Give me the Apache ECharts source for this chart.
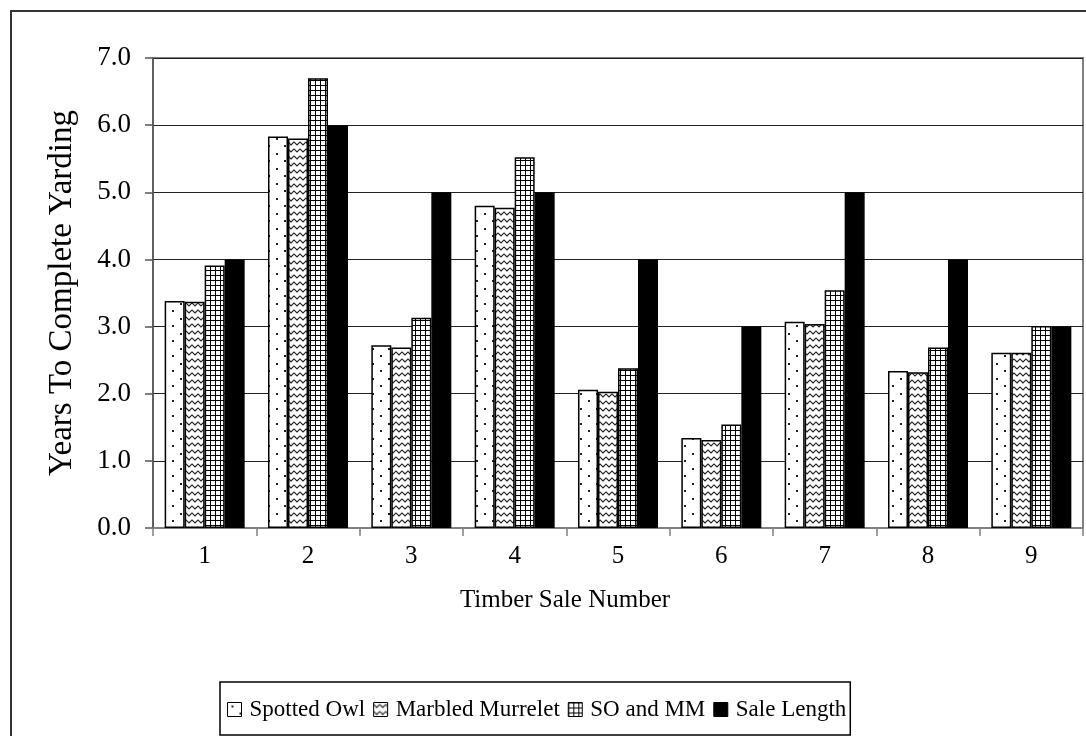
<!DOCTYPE html>
<html>
<head>
<meta charset="utf-8">
<title>Years To Complete Yarding</title>
<script src="https://cdn.jsdelivr.net/npm/echarts@6/dist/echarts.min.js"></script>
<style>
  html, body { margin: 0; padding: 0; background: #fff; }
  #chart { width: 1086px; height: 736px; }
</style>
</head>
<body>
<div id="chart"></div>
<script>
// Timber sales and years needed to complete yarding under each restriction
const categories = ['1', '2', '3', '4', '5', '6', '7', '8', '9'];
const spottedOwl = [3.38, 5.83, 2.72, 4.80, 2.06, 1.34, 3.07, 2.34, 2.61];
const marbledMurrelet = [3.37, 5.80, 2.69, 4.77, 2.03, 1.31, 3.04, 2.32, 2.61];
const soAndMm = [3.91, 6.70, 3.13, 5.52, 2.38, 1.54, 3.54, 2.69, 3.01];
const saleLength = [4.0, 6.0, 5.0, 5.0, 4.0, 3.0, 5.0, 4.0, 3.0];
const seriesNames = ['Spotted Owl', 'Marbled Murrelet', 'SO and MM', 'Sale Length'];

const FONT = '"Liberation Serif", "Times New Roman", serif';

// Small canvas tiles used as repeating fills for the bars
function tile(w, h, draw) {
  const c = document.createElement('canvas');
  c.width = w; c.height = h;
  const ctx = c.getContext('2d');
  ctx.fillStyle = '#fff';
  ctx.fillRect(0, 0, w, h);
  draw(ctx);
  return { image: c, repeat: 'repeat' };
}

const dotFill = tile(16, 15, ctx => {
  ctx.fillStyle = '#222';
  ctx.fillRect(4, 3, 2, 2);
  ctx.fillRect(12, 10, 2, 2);
});

const waveFill = tile(6, 7, ctx => {
  ctx.strokeStyle = '#222';
  ctx.lineWidth = 1.2;
  ctx.beginPath();
  ctx.moveTo(-0.5, 1.5);
  ctx.lineTo(3, 5);
  ctx.lineTo(6.5, 1.5);
  ctx.stroke();
});

const gridFill = tile(5, 5, ctx => {
  ctx.fillStyle = '#000';
  ctx.fillRect(0, 0, 5, 1);
  ctx.fillRect(0, 0, 1, 5);
});

const fills = [dotFill, waveFill, gridFill, '#000'];
const values = [spottedOwl, marbledMurrelet, soAndMm, saleLength];

const chart = echarts.init(document.getElementById('chart'), null, { renderer: 'canvas' });

chart.setOption({
  animation: false,
  backgroundColor: '#fff',
  textStyle: { fontFamily: FONT, color: '#000' },
  graphic: [{
    // chart-area frame
    type: 'rect',
    shape: { x: 11, y: 11, width: 1200, height: 900 },
    style: { fill: 'none', stroke: '#333', lineWidth: 2 },
    silent: true,
    z: -1
  }, {
    // category-axis title, centred on the chart area
    type: 'text',
    x: 565, y: 600,
    style: {
      text: 'Timber Sale Number',
      font: '25px ' + FONT,
      fill: '#000',
      textAlign: 'center',
      textVerticalAlign: 'middle'
    },
    silent: true
  }],
  grid: {
    left: 153, top: 58, right: 3, bottom: 208,
    show: true, borderColor: '#808080', borderWidth: 2,
    backgroundColor: '#fff'
  },
  legend: {
    data: seriesNames,
    left: 220, top: 682,
    icon: 'rect',
    itemWidth: 14, itemHeight: 14,
    itemGap: 8,
    padding: [16, 4, 14, 7],
    borderColor: '#000', borderWidth: 1.5,
    itemStyle: { borderColor: '#000', borderWidth: 1 },
    textStyle: { fontFamily: FONT, fontSize: 23, color: '#000', padding: [0, 0, 0, 3] }
  },
  xAxis: {
    type: 'category',
    data: categories,
    axisLine: { lineStyle: { color: '#808080', width: 2 } },
    axisTick: { show: true, length: 8, lineStyle: { color: '#808080', width: 1.5 } },
    axisLabel: { fontFamily: FONT, fontSize: 25, color: '#000', margin: 16 }
  },
  yAxis: {
    type: 'value',
    min: 0, max: 7, interval: 1,
    name: 'Years To Complete Yarding',
    nameLocation: 'middle',
    nameGap: 74,
    nameTextStyle: { fontFamily: FONT, fontSize: 33, color: '#000' },
    axisLine: { show: true, lineStyle: { color: '#555', width: 1.5 } },
    axisTick: { show: true, length: 8, lineStyle: { color: '#555', width: 1.5 } },
    axisLabel: {
      fontFamily: FONT, fontSize: 27, color: '#000', margin: 22,
      formatter: v => v.toFixed(1)
    },
    splitLine: { show: true, lineStyle: { color: '#222', width: 1 } }
  },
  series: seriesNames.map((name, i) => ({
    name,
    type: 'bar',
    data: values[i],
    barWidth: 20,
    barGap: '0%',
    itemStyle: { color: fills[i], borderColor: '#000', borderWidth: 1.5 }
  }))
});
</script>
</body>
</html>
